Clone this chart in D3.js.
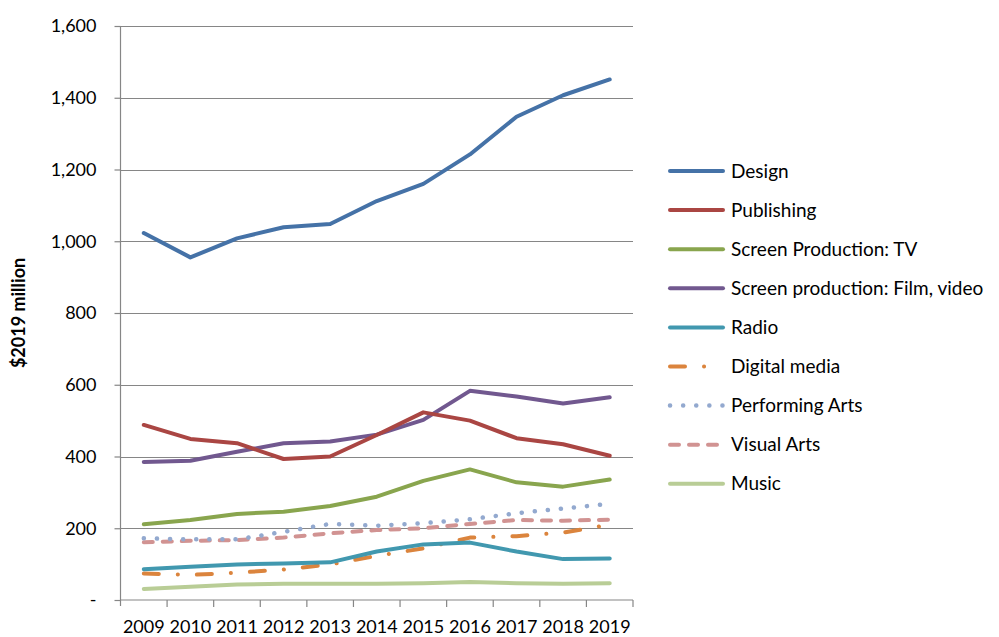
<!DOCTYPE html>
<html>
<head>
<meta charset="utf-8">
<script src="https://cdn.jsdelivr.net/npm/d3@7"></script>
<style>
  html, body { margin: 0; padding: 0; background: #ffffff; }
  svg { display: block; font-family: Lato, "Open Sans", sans-serif; }
</style>
</head>
<body>
<svg id="chart" width="999" height="637"></svg>
<script>
const years = ["2009","2010","2011","2012","2013","2014","2015","2016","2017","2018","2019"];
const yTicks = [0, 200, 400, 600, 800, 1000, 1200, 1400, 1600];

const design       = [1023, 955, 1008, 1039, 1048, 1112, 1160, 1242, 1347, 1407, 1451];
const publishing   = [488, 449, 437, 393, 400, 460, 523, 500, 451, 434, 402];
const screenTV     = [211, 223, 240, 246, 262, 288, 332, 364, 328, 316, 336];
const screenFilm   = [385, 388, 413, 437, 442, 461, 502, 583, 567, 548, 565];
const radio        = [86, 93, 99, 102, 105, 135, 155, 160, 135, 114, 116];
const digitalMedia = [74, 70, 76, 85, 99, 123, 144, 174, 178, 188, 210];
const performing   = [172, 169, 169, 190, 212, 207, 214, 225, 242, 255, 268];
const visualArts   = [161, 165, 167, 174, 186, 195, 200, 212, 223, 221, 224];
const music        = [31, 37, 43, 45, 45, 45, 47, 50, 47, 45, 47];

const seriesNames = ["Design","Publishing","Screen Production: TV","Screen production: Film, video","Radio","Digital media","Performing Arts","Visual Arts","Music"];
const seriesValues = [design, publishing, screenTV, screenFilm, radio, digitalMedia, performing, visualArts, music];
const seriesColors = ["#4572A7","#AA4643","#89A54E","#71588F","#4198AF","#DB843D","#93A9CF","#D19392","#B9CD96"];
const seriesDash = [null, null, null, null, null, "15,19,0.1,19", "0.1,13", "9,10", null];

const svg = d3.select("#chart");
const pLeft = 120.5, pRight = 633, pTop = 26, pBottom = 600;

const x = d3.scaleBand().domain(years).range([pLeft, pRight]).padding(0);
const y = d3.scaleLinear().domain([0, 1600]).range([pBottom, pTop]);

const axisColor = "#868686";

// gridlines
svg.append("g").selectAll("line").data(yTicks.filter(d => d > 0)).join("line")
  .attr("x1", pLeft).attr("x2", pRight)
  .attr("y1", d => Math.round(y(d)) + 0.5).attr("y2", d => Math.round(y(d)) + 0.5)
  .attr("stroke", axisColor).attr("stroke-width", 1.2);

// y axis
const fmt = d => d === 0 ? "-" : d3.format(",")(d);
const yAxis = svg.append("g")
  .attr("transform", `translate(${pLeft},0)`)
  .call(d3.axisLeft(y).tickValues(yTicks).tickFormat(fmt).tickSize(6).tickPadding(18));
yAxis.select(".domain").attr("stroke", axisColor).attr("stroke-width", 1.2)
  .attr("d", `M0,${pTop}V${pBottom + 6}`);
yAxis.selectAll(".tick line").attr("stroke", axisColor).attr("stroke-width", 1.2);
yAxis.selectAll(".tick text").attr("fill", "#000").style("font-size", "18px")
  .style("font-family", "Lato, 'Open Sans', sans-serif");

// x axis
const xAxis = svg.append("g")
  .attr("transform", `translate(0,${pBottom})`)
  .call(d3.axisBottom(x).tickSize(0).tickPadding(20));
xAxis.select(".domain").attr("stroke", axisColor).attr("stroke-width", 1.2)
  .attr("d", `M${pLeft},0H${pRight}`);
xAxis.selectAll(".tick text").attr("fill", "#000").style("font-size", "18px")
  .style("font-family", "Lato, 'Open Sans', sans-serif");
// category boundary ticks
const bounds = years.map(d => x(d)).concat([x(years[years.length - 1]) + x.bandwidth()]);
xAxis.append("g").selectAll("line").data(bounds.slice(1)).join("line")
  .attr("x1", d => d).attr("x2", d => d).attr("y1", 0).attr("y2", 7)
  .attr("stroke", axisColor).attr("stroke-width", 1.2);

// y axis title
svg.append("text")
  .attr("transform", `translate(25,${(pTop + pBottom) / 2}) rotate(-90)`)
  .attr("text-anchor", "middle")
  .style("font-size", "18px").style("font-weight", "bold")
  .text("$2019 million");

// lines
const line = d3.line()
  .x((d, i) => x(years[i]) + x.bandwidth() / 2)
  .y(d => y(d));

const order = [8, 7, 6, 5, 4, 3, 2, 1, 0];
svg.append("g").selectAll("path").data(order).join("path")
  .attr("d", i => line(seriesValues[i]))
  .attr("fill", "none")
  .attr("stroke", i => seriesColors[i])
  .attr("stroke-width", i => i === 6 ? 4.5 : 4)
  .attr("stroke-linecap", "round")
  .attr("stroke-linejoin", "round")
  .attr("stroke-dasharray", i => seriesDash[i]);

// legend
const lg = svg.append("g");
const rowY = i => 171 + i * 39.1;
seriesNames.forEach((name, i) => {
  lg.append("line")
    .attr("x1", 670).attr("x2", 723)
    .attr("y1", rowY(i)).attr("y2", rowY(i))
    .attr("stroke", seriesColors[i])
    .attr("stroke-width", i === 6 ? 4.5 : 4)
    .attr("stroke-linecap", "round")
    .attr("stroke-dasharray", seriesDash[i]);
  lg.append("text")
    .attr("x", 731).attr("y", rowY(i))
    .attr("dy", "0.35em")
    .style("font-size", "19px")
    .text(name);
});
</script>
</body>
</html>
